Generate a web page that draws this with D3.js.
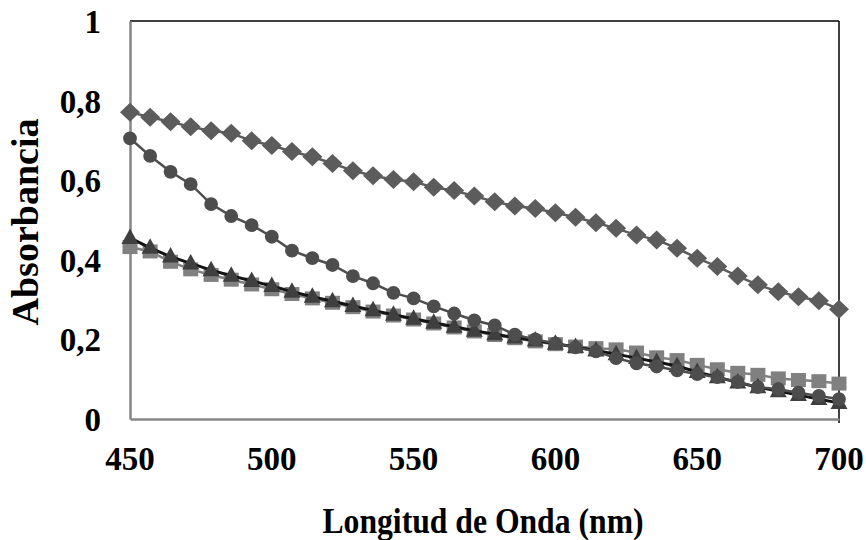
<!DOCTYPE html>
<html>
<head>
<meta charset="utf-8">
<script src="https://cdn.jsdelivr.net/npm/d3@7"></script>
<style>
  body { margin: 0; background: #fff; }
  svg text { font-family: "Liberation Serif", "Times New Roman", serif; font-weight: bold; fill: #000; }
</style>
</head>
<body>
<svg id="chart" width="866" height="540"></svg>
<script>
// wavelengths (nm), 36 readings from 450 to 700
var wavelengths = [450, 457.1, 464.3, 471.4, 478.6, 485.7, 492.9, 500, 507.1, 514.3, 521.4, 528.6,
  535.7, 542.9, 550, 557.1, 564.3, 571.4, 578.6, 585.7, 592.9, 600, 607.1, 614.3,
  621.4, 628.6, 635.7, 642.9, 650, 657.1, 664.3, 671.4, 678.6, 685.7, 692.9, 700];

var diamondVals = [0.771, 0.758, 0.747, 0.734, 0.724, 0.718, 0.699, 0.687, 0.672, 0.659, 0.642, 0.624,
  0.611, 0.602, 0.596, 0.582, 0.574, 0.560, 0.546, 0.535, 0.529, 0.518, 0.507, 0.493,
  0.479, 0.462, 0.450, 0.429, 0.404, 0.383, 0.359, 0.337, 0.320, 0.307, 0.297, 0.276];

var circleVals = [0.705, 0.661, 0.621, 0.590, 0.540, 0.510, 0.487, 0.458, 0.423, 0.404, 0.387, 0.359,
  0.341, 0.317, 0.303, 0.283, 0.265, 0.248, 0.235, 0.212, 0.200, 0.190, 0.180, 0.170,
  0.153, 0.140, 0.132, 0.122, 0.113, 0.105, 0.093, 0.080, 0.075, 0.066, 0.058, 0.050];

var squareVals = [0.432, 0.421, 0.395, 0.376, 0.362, 0.350, 0.338, 0.326, 0.314, 0.303, 0.292, 0.281,
  0.270, 0.260, 0.250, 0.240, 0.230, 0.220, 0.211, 0.203, 0.195, 0.188, 0.182, 0.178,
  0.175, 0.167, 0.155, 0.148, 0.136, 0.125, 0.116, 0.111, 0.102, 0.098, 0.095, 0.089];

var triangleVals = [0.455, 0.430, 0.408, 0.391, 0.374, 0.360, 0.347, 0.334, 0.320, 0.307, 0.296, 0.284,
  0.273, 0.262, 0.252, 0.242, 0.232, 0.222, 0.213, 0.205, 0.197, 0.189, 0.181, 0.172,
  0.163, 0.153, 0.143, 0.133, 0.118, 0.105, 0.092, 0.080, 0.070, 0.060, 0.050, 0.040];

var xTicks = [450, 500, 550, 600, 650, 700];
var yTicks = [0, 0.2, 0.4, 0.6, 0.8, 1];

var svg = d3.select('#chart');
var serif = '"Liberation Serif", "Times New Roman", serif';

var x = d3.scaleLinear().domain([450, 700]).range([130, 839]);
var y = d3.scaleLinear().domain([0, 1]).range([419, 21]);

var fmt = function(d) { return String(d).replace('.', ','); };

// plot frame
svg.append('line').attr('x1', 130).attr('x2', 839).attr('y1', 21).attr('y2', 21)
    .style('stroke', '#000').style('stroke-width', 1.5);
svg.append('line').attr('x1', 839).attr('x2', 839).attr('y1', 21).attr('y2', 423)
    .style('stroke', '#000').style('stroke-width', 1.5);

// axes
svg.append('g').attr('transform', 'translate(130,0)')
    .call(d3.axisLeft(y).tickValues(yTicks).tickSize(0).tickFormat(''));
svg.append('g').attr('transform', 'translate(0,419)')
    .call(d3.axisBottom(x).tickValues(xTicks).tickSize(0).tickFormat(''));
svg.selectAll('.domain').style('stroke', '#868686').style('stroke-width', 2.5);

// tick labels
svg.selectAll('.ylab').data(yTicks).enter().append('text')
    .attr('class', 'ylab')
    .attr('font-family', serif)
    .attr('x', 101)
    .attr('y', function(d) { return y(d) + 12; })
    .attr('text-anchor', 'end')
    .style('font-size', '33px')
    .text(fmt);

svg.selectAll('.xlab').data(xTicks).enter().append('text')
    .attr('class', 'xlab')
    .attr('font-family', serif)
    .attr('x', function(d) { return x(d); })
    .attr('y', 470)
    .attr('text-anchor', 'middle')
    .style('font-size', '33px')
    .text(fmt);

// axis titles
svg.append('text')
    .attr('font-family', serif)
    .attr('transform', 'translate(483,533) scale(0.88,1)')
    .attr('text-anchor', 'middle')
    .style('font-size', '36px')
    .text('Longitud de Onda (nm)');

svg.append('text')
    .attr('font-family', serif)
    .attr('transform', 'translate(38,222) rotate(-90)')
    .attr('text-anchor', 'middle')
    .style('font-size', '38px')
    .text('Absorbancia');

// series
var series = [
  { name: 'diamond', vals: diamondVals, color: '#5c5c5c', line: '#5c5c5c', lw: 2.5 },
  { name: 'square', vals: squareVals, color: '#808080', line: '#808080', lw: 2.5 },
  { name: 'triangle', vals: triangleVals, color: '#3f3f3f', line: '#141414', lw: 3 },
  { name: 'circle', vals: circleVals, color: '#4d4d4d', line: '#4d4d4d', lw: 2.5 }
];

var line = d3.line()
    .x(function(d) { return x(d[0]); })
    .y(function(d) { return y(d[1]); });

var markerPath = {
  diamond: 'M0,-9.5L10,0L0,9.5L-10,0Z',
  square: 'M-7.5,-7L7.5,-7L7.5,7L-7.5,7Z',
  triangle: 'M0,-9.5L8.5,6L-8.5,6Z',
  circle: d3.symbol().type(d3.symbolCircle).size(150)()
};

series.forEach(function(s) {
  var pts = wavelengths.map(function(w, i) { return [w, s.vals[i]]; });
  var g = svg.append('g').attr('class', 'series-' + s.name);
  g.append('path').datum(pts)
      .attr('d', line)
      .style('fill', 'none')
      .style('stroke', s.line)
      .style('stroke-width', s.lw);
  g.selectAll('path.mk').data(pts).enter().append('path')
      .attr('class', 'mk')
      .attr('transform', function(d) { return 'translate(' + x(d[0]) + ',' + y(d[1]) + ')'; })
      .attr('d', markerPath[s.name])
      .style('fill', s.color);
});
</script>
</body>
</html>
